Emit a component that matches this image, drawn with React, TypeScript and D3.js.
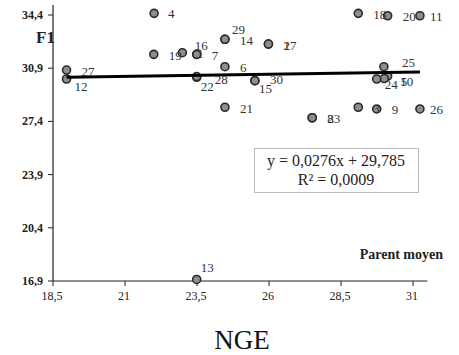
import React from "react";
import * as d3 from "d3";

// Scatter of F1 against the parent mean (NGE), with a linear trend line.
const ids = [
  1, 2, 3, 4, 5, 6, 7, 8, 9, 10, 11, 12, 13, 14, 15, 16, 17, 18, 19, 20, 21,
  22, 23, 24, 25, 26, 27, 28, 29, 30,
];
const parentMean = [
  22.99, 25.98, 29.1, 22.01, 30.12, 24.47, 23.49, 27.5, 29.74, 30.0, 31.24,
  18.97, 23.49, 24.47, 25.51, 23.49, 25.98, 29.1, 22.0, 30.12, 24.47, 23.49,
  27.5, 29.74, 29.99, 31.24, 18.97, 23.49, 24.47, 25.51,
];
const f1Values = [
  31.92, 32.49, 28.33, 34.51, 30.38, 31.0, 31.81, 27.64, 28.22, 30.22, 34.35,
  30.19, 17.0, 32.8, 30.08, 31.81, 32.49, 34.51, 31.81, 34.35, 28.33, 30.3,
  27.64, 30.19, 31.0, 28.22, 30.78, 30.35, 32.8, 30.08,
];

const xTicks = [18.5, 21, 23.5, 26, 28.5, 31];
const yTicks = [16.9, 20.4, 23.9, 27.4, 30.9, 34.4];

const slope = 0.0276;
const intercept = 29.785;
const equationText = "y = 0,0276x + 29,785";
const r2Text = "R² = 0,0009";
const yTitle = "F1";
const xTitle = "Parent moyen";
const caption = "NGE";

// Label placement tweaks (dx from centre, dy of text centre) for crowded points
const labelShift: Record<number, [number, number]> = {
  4: [14, 0],
  11: [10, 1],
  26: [10, 1],
  12: [8, 8],
  22: [4, 9],
  28: [18, 3],
  16: [-2, -9],
  29: [7, -10],
  15: [4, 8],
  30: [15, -1],
  13: [4, -12],
  24: [8, 6],
  10: [16, 3],
  5: [13, 5],
  25: [18, -4],
  27: [15, 1],
};

const fmt = (v: number) => String(v).replace(".", ",");

export default function App() {
  const width = 459;
  const height = 355;
  const font = "'Liberation Serif', 'Times New Roman', serif";

  const x = d3.scaleLinear().domain([18.5, 31]).range([53, 413]);
  const y = d3.scaleLinear().domain([16.9, 34.4]).range([281, 15]);
  const xEnd = x(31.5);
  const yTop = y(35.05);

  const xMin = d3.min(parentMean) as number;
  const xMax = d3.max(parentMean) as number;
  const trend = d3
    .line<number>()
    .x((d) => x(d))
    .y((d) => y(slope * d + intercept));

  const pts = ids.map((id, i) => ({ id, vx: parentMean[i], vy: f1Values[i] }));

  return (
    <svg
      width={width}
      height={height}
      style={{ position: "absolute", left: 0, top: 0, background: "#fff" }}
      fontFamily={font}
    >
      {/* axes */}
      <line x1={x(18.5)} x2={xEnd} y1={y(16.9)} y2={y(16.9)} stroke="#222" strokeWidth={1.2} />
      <line x1={x(18.5)} x2={x(18.5)} y1={y(16.9)} y2={yTop} stroke="#222" strokeWidth={1.2} />
      {xTicks.map((t) => (
        <g key={"xt" + t}>
          <line x1={x(t)} x2={x(t)} y1={y(16.9)} y2={y(16.9) + 5} stroke="#222" strokeWidth={1} />
          <text x={x(t) - 1} y={300} fontSize={12} textAnchor="middle" fill="#222">
            {fmt(t)}
          </text>
        </g>
      ))}
      {yTicks.map((t) => (
        <g key={"yt" + t}>
          <line x1={x(18.5) - 5} x2={x(18.5)} y1={y(t)} y2={y(t)} stroke="#222" strokeWidth={1} />
          <text
            x={43}
            y={y(t) + 4}
            fontSize={12}
            fontWeight="bold"
            textAnchor="end"
            fill="#222"
          >
            {fmt(t)}
          </text>
        </g>
      ))}

      {/* titles */}
      <text x={36} y={43} fontSize={17} fontWeight="bold" fill="#222">
        {yTitle}
      </text>
      <text x={443} y={259} fontSize={14} fontWeight="bold" textAnchor="end" fill="#222">
        {xTitle}
      </text>
      <text x={242} y={349} fontSize={27} textAnchor="middle" fill="#111">
        {caption}
      </text>

      {/* points */}
      {pts.map((p) => (
        <circle
          key={"c" + p.id}
          cx={x(p.vx)}
          cy={y(p.vy)}
          r={4}
          fill="#8e8e8e"
          stroke="#2a2a2a"
          strokeWidth={1.6}
        />
      ))}

      {/* trend line */}
      <path d={trend([xMin, xMax]) || ""} stroke="#000" strokeWidth={3} fill="none" />

      {/* point labels */}
      {pts.map((p) => {
        const [dx, dy] = labelShift[p.id] || [15, 1];
        return (
          <text
            key={"l" + p.id}
            x={x(p.vx) + dx}
            y={y(p.vy) + dy + 4.5}
            fontSize={13}
            fill="#333"
          >
            {p.id}
          </text>
        );
      })}

      {/* equation box */}
      <rect x={254.5} y={148.5} width={164} height={44} fill="#fff" stroke="#bbb" strokeWidth={1} />
      <text x={336} y={166} fontSize={16} textAnchor="middle" fill="#222">
        {equationText}
      </text>
      <text x={336} y={184.5} fontSize={16} textAnchor="middle" fill="#222">
        {r2Text}
      </text>
    </svg>
  );
}
